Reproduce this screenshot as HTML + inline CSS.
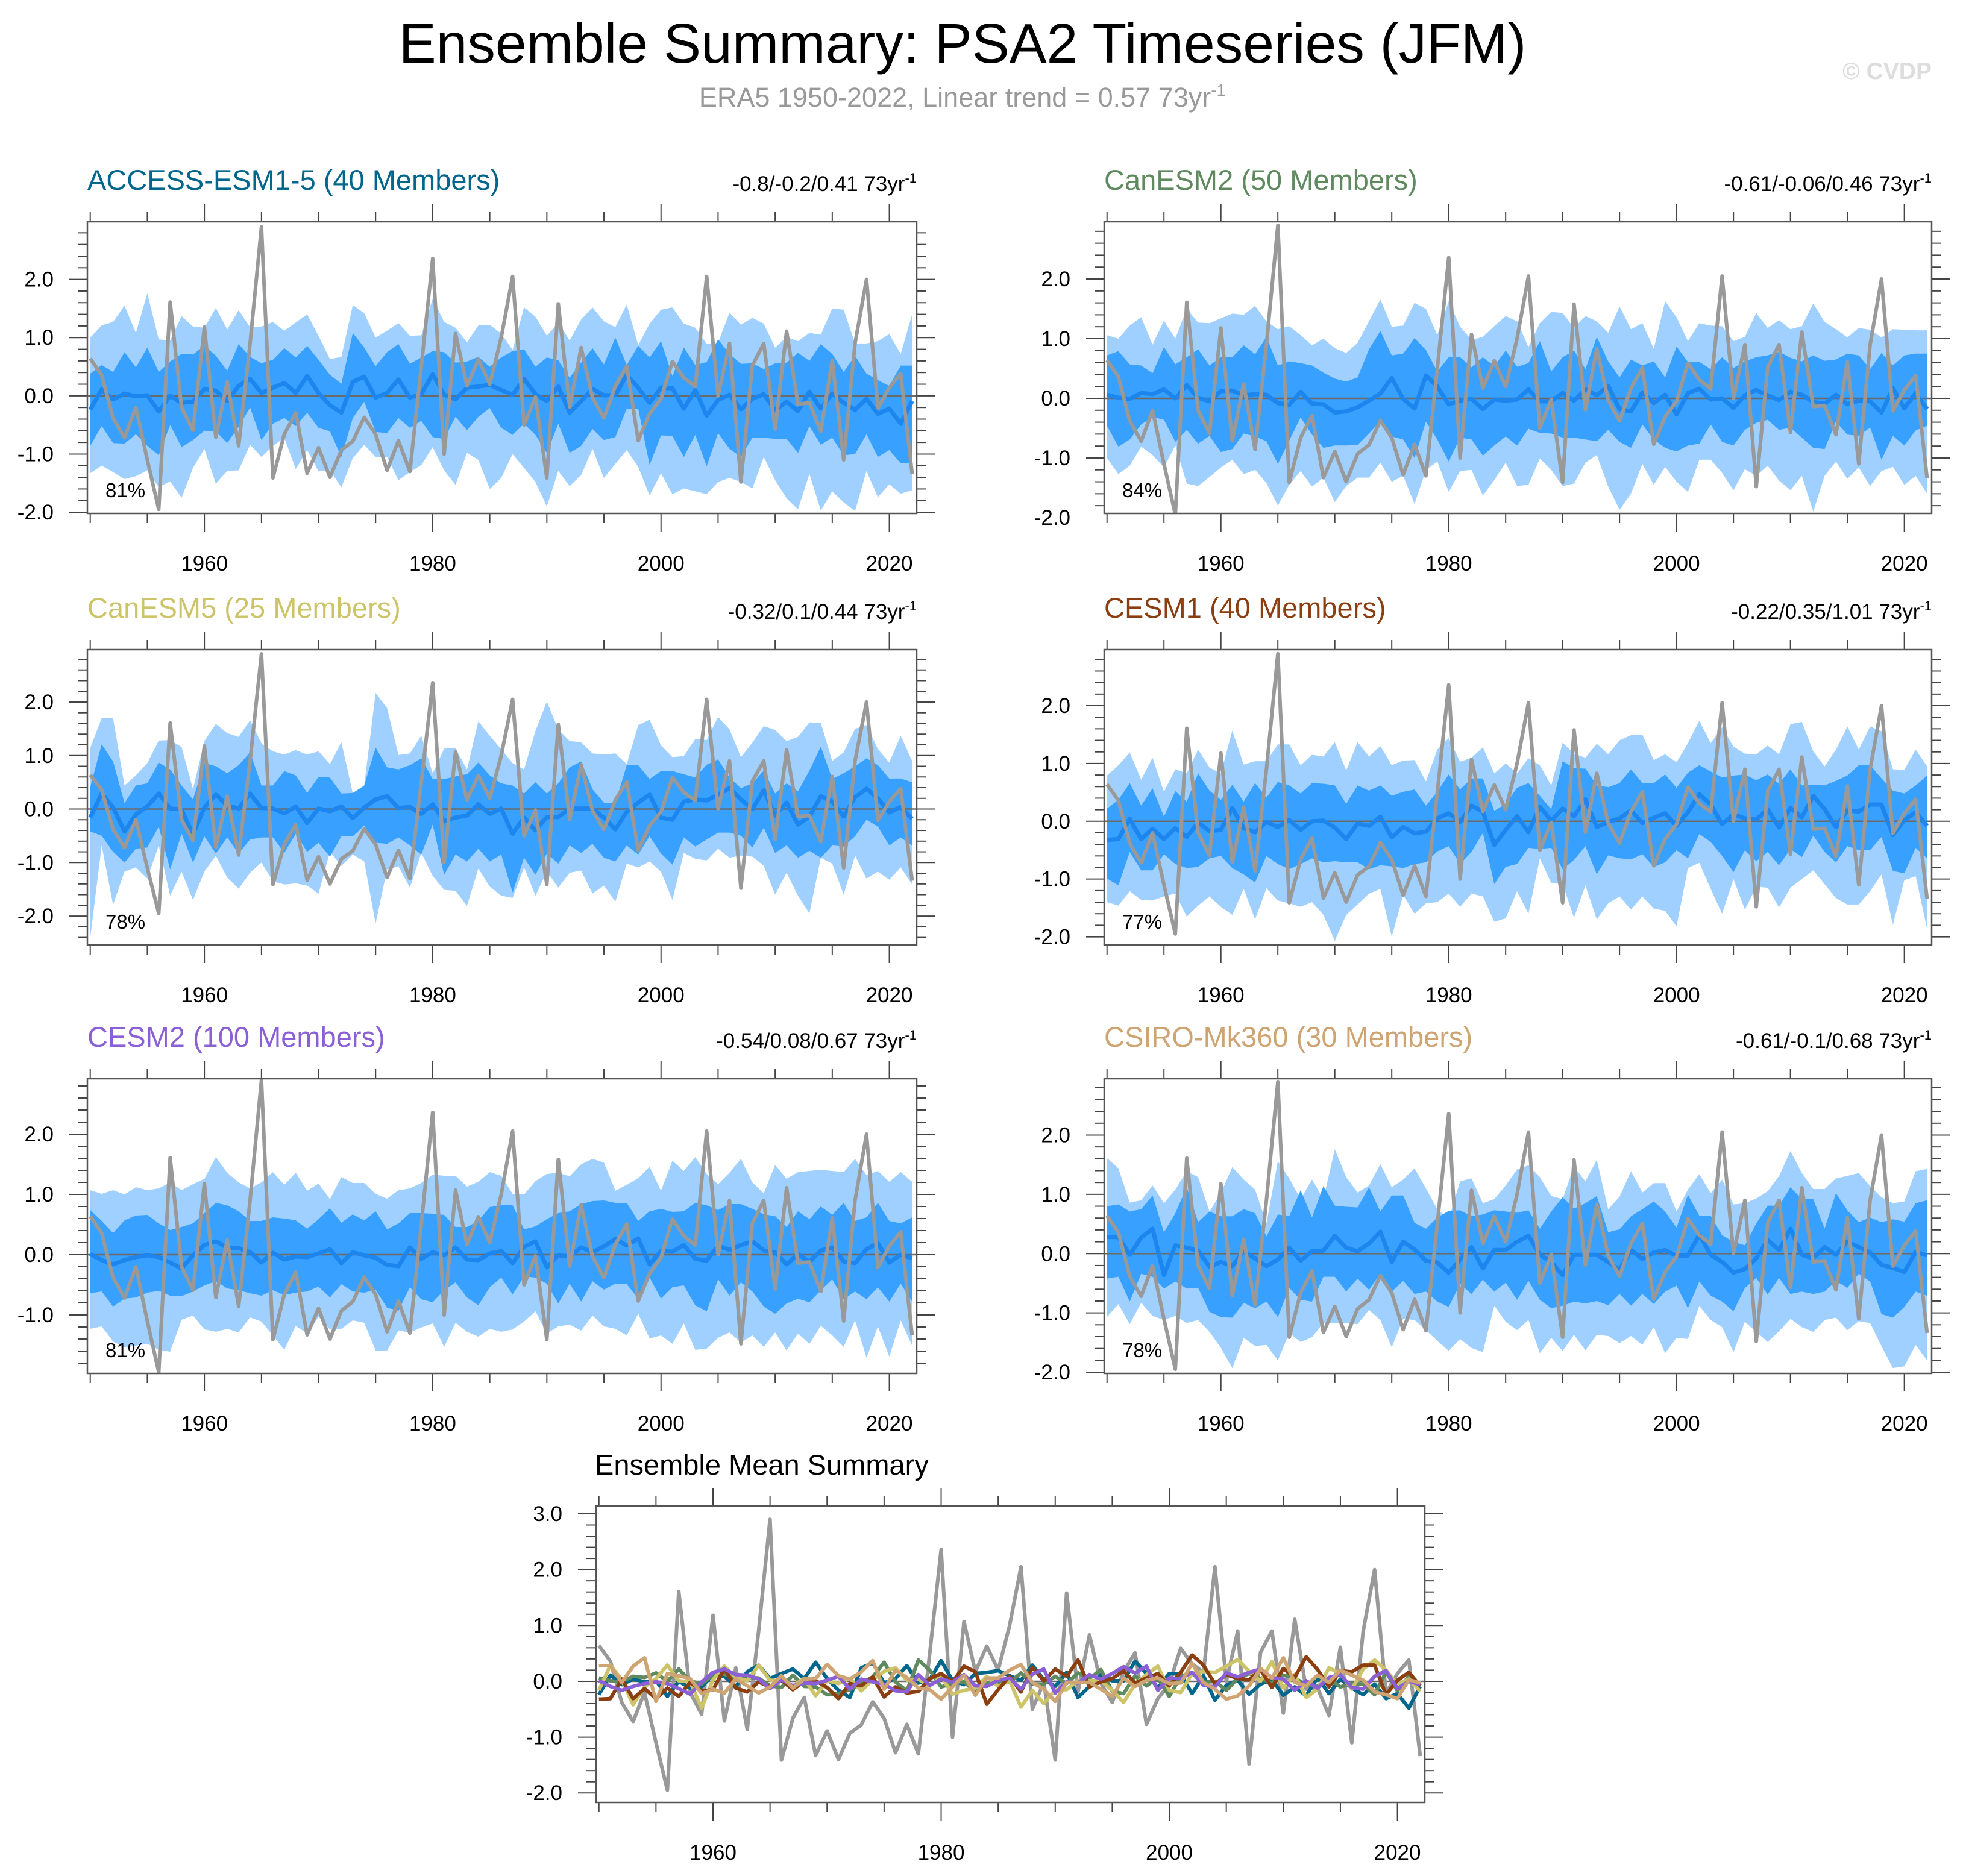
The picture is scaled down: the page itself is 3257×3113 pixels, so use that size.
<!DOCTYPE html>
<html><head><meta charset="utf-8"><title>Ensemble Summary: PSA2 Timeseries (JFM)</title>
<style>html,body{margin:0;padding:0;background:#fff;}svg{display:block;font-family:"Liberation Sans",Arial,sans-serif;}</style>
</head><body>
<svg id="chart" xmlns="http://www.w3.org/2000/svg" width="3257" height="3113" viewBox="0 0 3257 3113">
<rect x="0" y="0" width="3257" height="3113" fill="#fff"/>
<text x="1597" y="104" font-size="93" text-anchor="middle" fill="#000">Ensemble Summary: PSA2 Timeseries (JFM)</text>
<text x="1597" y="177" font-size="45" text-anchor="middle" fill="#999">ERA5 1950-2022, Linear trend = 0.57 73yr<tspan font-size="28" dy="-18">-1</tspan></text>
<text x="3205" y="131" font-size="39" font-weight="bold" text-anchor="end" fill="#ddd">© CVDP</text>
</svg>
<script>
const years = Array.from({length:73},(_,i)=>1950+i);
const xTickLabels = ["1960","1980","2000","2020"];
const obs = [0.64,0.36,-0.38,-0.72,-0.2,-1.1,-1.95,1.61,-0.2,-0.59,1.18,-0.71,0.24,-0.86,0.9,2.9,-1.41,-0.66,-0.29,-1.33,-0.89,-1.4,-0.93,-0.78,-0.37,-0.66,-1.28,-0.77,-1.3,0.5,2.36,-1.0,1.07,0.17,0.63,0.2,1.0,2.05,-0.5,-0.02,-1.41,1.58,-0.19,0.83,-0.03,-0.38,0.17,0.51,-0.77,-0.31,-0.05,0.59,0.31,0.16,2.05,0.0,0.9,-1.48,0.52,0.9,-0.57,1.11,-0.14,-0.12,-0.61,0.61,-1.1,0.9,2.0,-0.21,0.14,0.38,-1.34];

const m1 = [-0.24,0.11,-0.06,0.04,-0.01,0.01,-0.27,0,-0.12,-0.1,0.12,0.09,-0.09,0.17,0.29,0.05,0.14,0.22,0.05,0.34,0.05,-0.16,-0.29,0.24,0.33,-0.03,0.05,0.28,-0.03,0.03,0.37,0.02,-0.06,0.14,0.16,0.19,0.1,0.02,0.29,0.03,-0.09,0.16,-0.29,-0.09,0.12,0.01,0.01,0.36,0.14,-0.12,0.14,0.13,-0.22,0.1,-0.34,-0.07,0.02,-0.23,-0.05,0.03,-0.25,-0.1,-0.26,0.07,-0.22,0.04,-0.12,-0.24,-0.05,-0.31,-0.22,-0.48,-0.09];
const p90_1 = [1.0,1.21,1.27,1.55,1.08,1.76,0.97,0.95,1.37,1.19,1.17,1.51,1.14,1.47,1.18,1.19,1.27,1.12,1.26,1.4,1.03,0.63,0.67,1.56,1.42,1.0,1.12,1.25,1.03,1.04,1.67,1.27,1.17,0.92,1.21,1.22,1.07,0.79,1.52,1.36,1.03,1.26,0.95,1.31,1.52,1.28,1.18,1.57,0.87,1.24,1.48,1.52,1.24,1.17,0.89,0.91,1.43,1.22,1.34,1.24,0.83,1.01,0.94,1.08,1.05,1.5,1.48,0.9,0.9,0.94,1.06,0.72,1.4];
const p75_1 = [0.38,0.53,0.41,0.75,0.49,0.83,0.41,0.59,0.72,0.71,0.86,0.69,0.43,0.89,0.67,0.56,0.62,0.82,0.66,0.86,0.62,0.36,0.21,1.08,0.83,0.51,0.75,0.89,0.55,0.66,0.77,0.75,0.57,0.59,0.67,0.5,0.66,0.77,0.8,0.5,0.66,0.61,0.31,0.57,0.82,0.54,1.0,0.53,0.86,0.66,0.94,0.34,0.83,0.53,0.58,0.97,0.72,0.55,0.56,0.46,0.56,0.57,0.74,0.6,0.89,0.72,0.41,0.69,0.38,0.27,0.17,0.52,0.52];
const p25_1 = [-0.86,-0.52,-0.81,-0.82,-0.66,-0.86,-1.02,-0.5,-0.88,-0.76,-0.6,-0.61,-0.81,-0.53,-0.2,-0.76,-0.48,-0.38,-0.52,-0.29,-0.55,-0.61,-1.05,-0.38,-0.1,-0.62,-0.64,-0.38,-0.55,-0.43,-0.71,-0.74,-0.36,-0.59,-0.36,-0.21,-0.55,-0.67,-0.48,-0.67,-0.98,-0.48,-0.98,-0.86,-0.57,-0.76,-0.71,-0.22,-0.22,-1.19,-0.68,-0.69,-1.05,-0.67,-1.21,-0.64,-0.91,-1.05,-0.72,-0.72,-0.74,-0.74,-0.98,-0.52,-0.84,-0.72,-1.02,-1.0,-0.66,-1.05,-0.93,-1.16,-1.16];
const p10_1 = [-1.33,-1.2,-1.31,-1.43,-1.38,-1.28,-1.57,-1.47,-1.75,-1.24,-0.91,-1.51,-1.29,-1.28,-0.84,-1.05,-0.86,-0.72,-1.26,-0.93,-1.3,-1.28,-1.57,-1.07,-0.84,-1.05,-1.05,-1.45,-1.31,-1.19,-0.88,-1.28,-1.53,-0.98,-1.1,-1.6,-1.41,-1.0,-1.24,-1.48,-1.9,-1.29,-1.55,-1.36,-0.91,-1.41,-1.17,-0.93,-1.22,-1.71,-1.33,-1.69,-1.59,-1.64,-1.69,-1.48,-1.41,-1.48,-1.59,-1.05,-1.45,-1.76,-1.95,-1.34,-1.97,-1.64,-1.83,-1.98,-1.29,-1.74,-1.52,-1.68,-1.62];

const m2 = [0.06,0.01,-0.01,0.09,0.07,0.15,0,0.22,0.01,-0.05,0.12,0.13,0.05,0.07,0.06,-0.08,-0.11,0.11,-0.09,-0.1,-0.24,-0.22,-0.15,-0.04,0.08,0.34,-0.01,-0.17,0.38,0.2,-0.1,-0.04,-0.01,-0.18,-0.02,-0.04,-0.02,0.15,-0.05,-0.05,0.09,-0.04,0.15,0.05,0.21,-0.18,-0.22,0.1,-0.08,0.06,-0.27,0.09,0.16,-0.02,0,-0.16,0.05,0.14,0.05,-0.03,0.11,0.06,-0.06,-0.09,0.06,-0.1,-0.04,-0.05,-0.24,0.17,-0.17,0.09,-0.18];
const p90_2 = [1.06,1.0,1.22,1.36,0.9,1.3,1.0,1.5,1.27,1.26,1.34,1.42,1.4,1.55,1.29,1.16,1.21,1.06,0.89,1.0,0.84,0.76,0.93,1.29,1.66,1.2,1.22,1.6,1.5,1.06,1.63,1.2,0.98,1.03,1.21,1.38,1.29,0.86,1.26,1.45,1.43,1.18,1.38,1.29,1.1,1.54,1.16,1.26,0.83,1.63,1.36,0.96,1.26,1.22,1.21,0.96,1.03,1.43,1.18,1.31,1.16,1.21,1.59,1.28,1.16,1.02,1.18,1.15,1.02,1.16,1.15,1.14,1.14];
const p75_2 = [0.72,0.79,0.57,0.55,0.42,0.86,0.57,0.69,0.82,0.55,0.69,0.69,0.89,0.74,1.03,0.55,0.62,0.59,0.55,0.43,0.33,0.28,0.35,0.82,1.13,0.72,0.75,1.01,0.81,0.45,0.69,0.69,0.52,0.69,0.54,0.8,0.53,0.59,0.96,0.45,0.69,0.8,0.49,1.03,0.62,0.35,0.65,0.55,0.62,0.35,0.87,0.61,0.61,0.49,0.69,0.51,0.62,0.69,0.72,0.78,0.68,0.62,0.72,0.63,0.65,0.75,0.72,0.49,0.76,0.55,0.72,0.75,0.75];
const p25_2 = [-0.46,-0.81,-0.69,-0.44,-0.31,-0.36,-0.73,-0.53,-0.76,-0.63,-0.9,-0.85,-0.59,-0.64,-0.72,-1.1,-0.71,-0.32,-0.61,-0.83,-0.79,-0.79,-0.78,-0.59,-0.38,-0.64,-0.69,-1.0,-0.39,-0.69,-1.06,-0.66,-0.69,-0.96,-0.79,-0.64,-0.79,-0.51,-0.58,-0.59,-0.66,-0.66,-0.69,-0.72,-0.53,-0.73,-0.83,-0.44,-0.69,-0.83,-0.89,-0.79,-0.76,-0.44,-0.73,-0.79,-0.53,-0.41,-0.36,-0.53,-0.49,-0.66,-0.83,-0.85,-0.39,-0.61,-0.63,-0.49,-1.03,-0.63,-0.79,-0.54,-0.46];
const p10_2 = [-1.0,-1.27,-1.13,-0.81,-0.95,-1.16,-0.79,-1.43,-1.47,-1.32,-1.16,-1.03,-1.27,-1.2,-1.42,-1.8,-1.45,-1.22,-1.48,-1.33,-1.74,-1.47,-1.33,-1.33,-1.08,-1.4,-1.3,-1.77,-1.2,-1.06,-1.57,-1.22,-1.2,-1.63,-1.37,-1.08,-1.47,-1.45,-1.01,-1.2,-1.47,-1.43,-1.08,-0.95,-1.48,-1.87,-1.6,-1.1,-1.45,-1.15,-1.4,-1.57,-1.03,-1.03,-1.25,-1.54,-1.19,-1.3,-1.13,-1.38,-1.54,-1.3,-1.9,-1.3,-1.06,-1.35,-1.16,-1.47,-1.22,-1.15,-1.45,-1.3,-1.6];

const m3 = [-0.16,0.29,0.03,-0.42,-0.1,0.05,0.29,0.01,-0.01,-0.48,0.03,0.27,0.07,0.01,0.29,0.02,0.01,-0.08,0.05,-0.26,0.01,-0.04,0.05,-0.17,0.03,0.18,0.24,0.02,0.04,-0.09,0.09,-0.23,-0.16,-0.12,0.09,-0.09,0.01,-0.46,-0.16,-0.4,-0.15,-0.15,0.01,0.01,0.01,-0.16,-0.38,-0.05,0.12,0.27,-0.16,-0.2,0.14,0.18,0.16,0.27,0.39,0.18,0,0.35,-0.12,0.12,-0.29,-0.14,0.24,0.14,-0.14,0.22,0.38,0.2,-0.06,0.04,-0.18];
const p90_3 = [1.14,1.7,1.7,0.44,0.63,0.86,1.28,1.29,1.16,0.37,1.27,1.59,1.42,1.35,1.66,1.23,1.08,1.02,1.1,1.02,1.08,0.84,1.25,0.29,0.44,2.17,1.89,1.01,1.04,1.37,0.67,1.13,1.14,0.74,1.64,1.37,1.12,0.86,0.74,1.46,2.01,1.49,1.27,1.25,1.04,1.02,1.04,0.84,1.57,1.67,1.19,0.97,0.99,1.31,1.29,1.72,1.49,0.97,1.24,1.55,1.48,1.27,1.35,1.62,1.61,0.9,1.06,1.5,1.57,1.12,0.87,1.37,0.9];
const p75_3 = [0.41,1.21,0.89,0.11,0.44,0.48,0.87,0.74,0.44,0.18,0.86,0.8,0.67,0.82,1.06,0.44,0.44,0.71,0.63,0.3,0.6,0.59,0.29,0.3,0.44,1.15,0.78,0.74,0.82,0.95,0.56,0.56,0.61,0.65,0.87,0.63,0.48,0.44,0.29,0.5,0.29,0.48,0.78,0.89,0.37,0.12,0.11,0.82,0.82,0.56,0.71,0.71,0.65,0.59,0.83,0.93,0.59,0.39,0.48,0.72,0.29,0.48,0.33,0.72,1.17,0.56,0.67,0.8,0.95,0.82,0.57,0.57,0.5];
const p25_3 = [-0.42,-0.5,-0.8,-1.0,-0.74,-0.72,-0.33,-1.13,-0.46,-1.0,-0.51,-0.83,-0.53,-0.83,-0.57,-0.53,-0.53,-0.82,-0.46,-0.8,-0.63,-0.89,-0.51,-0.51,-0.31,-0.63,-0.65,-0.53,-0.68,-0.85,-0.29,-1.23,-0.85,-0.98,-0.74,-0.98,-0.85,-1.56,-0.91,-1.23,-0.83,-1.02,-0.68,-0.82,-0.65,-0.91,-0.98,-0.68,-0.85,-0.51,-0.83,-1.04,-0.53,-0.7,-0.57,-0.44,-0.44,-0.5,-0.72,-0.35,-0.82,-0.68,-0.91,-0.78,-0.91,-0.68,-0.7,-0.51,-0.2,-0.33,-0.68,-0.53,-0.68];
const p10_3 = [-2.41,-0.68,-1.79,-1.17,-1.09,-1.3,-0.68,-1.62,-1.17,-1.7,-1.17,-0.87,-1.28,-1.49,-1.19,-1.0,-1.35,-1.41,-1.39,-1.43,-1.58,-0.8,-1.06,-0.85,-0.98,-2.14,-1.13,-1.07,-1.47,-0.82,-1.25,-1.51,-1.53,-1.81,-1.11,-1.45,-1.62,-1.66,-1.09,-1.62,-1.17,-1.47,-1.19,-1.15,-1.58,-1.43,-1.73,-1.02,-1.09,-0.98,-1.17,-1.7,-0.82,-0.93,-0.96,-0.74,-0.91,-0.87,-0.89,-1.06,-1.6,-1.19,-1.62,-1.95,-0.91,-1.02,-1.6,-0.87,-1.3,-1.17,-1.32,-1.09,-1.41];

const m4 = [-0.32,-0.31,0.04,-0.31,-0.13,-0.31,-0.12,-0.27,-0.02,-0.17,-0.15,0.23,-0.12,-0.19,-0.01,-0.1,0.02,-0.15,0,0.01,-0.11,-0.31,-0.04,-0.08,0.08,-0.28,-0.1,-0.21,-0.18,0.05,0.14,-0.01,0.27,0.17,-0.41,-0.15,0.09,-0.19,0.25,0.01,0.22,0.09,0.38,-0.1,-0.01,0.05,0.19,-0.03,0.06,0.14,-0.08,0.16,0.47,0.29,-0.05,0.12,0.05,0.03,0.21,-0.11,0.23,0.07,0.44,0.21,-0.1,0.19,0.17,0.29,0.29,-0.24,0.02,0.16,-0.08];
const p90_4 = [0.79,0.97,1.19,0.72,1.1,0.51,0.9,0.83,1.24,0.93,0.83,1.57,0.98,1.04,1.04,1.33,1.33,0.97,1.15,1.12,1.37,0.88,1.37,1.12,1.3,0.97,1.05,1.06,0.69,1.24,1.44,1.03,1.1,1.28,0.83,1.0,0.83,1.09,0.97,0.62,1.36,1.17,1.1,1.34,1.16,1.4,1.49,1.5,1.06,1.16,1.02,1.35,1.74,1.35,1.63,1.29,1.17,1.16,1.31,1.16,1.68,1.72,1.21,0.95,1.24,1.64,1.24,1.64,1.56,0.9,0.89,1.24,0.95];
const p75_4 = [0.22,0.37,0.66,0.27,0.57,0.08,0.52,0.34,0.83,0.53,0.37,0.63,0.34,0.66,0.41,0.68,0.62,0.48,0.66,0.65,0.62,0.3,0.62,0.53,0.62,0.44,0.51,0.55,0.27,0.51,0.81,0.55,0.74,0.74,0.18,0.3,0.58,0.66,0.44,0.21,1.04,0.92,0.91,0.62,0.59,0.66,0.9,0.66,0.66,0.81,0.58,0.84,0.97,0.86,0.76,0.79,0.81,0.71,0.81,0.65,0.9,0.62,0.63,0.62,0.7,0.79,0.97,0.97,0.74,0.53,0.48,0.62,0.79];
const p25_4 = [-0.99,-1.11,-0.53,-0.85,-0.85,-0.57,-0.74,-0.81,-0.79,-0.64,-0.6,-0.81,-0.92,-1.06,-0.6,-0.74,-0.83,-0.74,-0.64,-0.71,-0.69,-0.71,-0.71,-0.83,-0.76,-0.78,-0.81,-0.74,-0.71,-0.52,-0.43,-0.74,-0.53,-0.2,-1.09,-0.79,-0.74,-0.46,-0.48,-0.46,-0.83,-0.67,-0.43,-0.92,-0.59,-0.64,-0.66,-0.57,-0.79,-0.71,-0.5,-0.64,-0.22,-0.36,-0.6,-0.88,-0.5,-0.69,-0.53,-0.76,-0.48,-0.62,-0.25,-0.53,-0.71,-0.43,-0.5,-0.5,-0.27,-0.86,-0.9,-0.46,-0.64];
const p10_4 = [-1.4,-1.46,-1.21,-1.36,-1.37,-1.3,-1.25,-1.65,-1.46,-1.3,-1.48,-1.62,-1.17,-1.7,-1.16,-1.37,-1.42,-1.48,-1.4,-1.62,-2.07,-1.62,-1.44,-1.25,-1.17,-2.0,-1.28,-1.6,-1.42,-1.4,-1.25,-1.48,-1.25,-1.3,-1.74,-1.68,-1.21,-1.6,-0.64,-1.07,-1.09,-1.67,-1.11,-1.7,-1.42,-1.3,-1.53,-1.3,-1.51,-1.55,-1.82,-0.81,-0.72,-1.17,-1.6,-1.0,-1.53,-1.13,-1.15,-1.49,-1.15,-1.0,-0.85,-1.09,-1.33,-1.44,-1.44,-1.21,-0.92,-1.79,-1.02,-0.95,-1.86];

const m5 = [0.01,-0.09,-0.16,-0.09,-0.04,-0.01,-0.04,-0.13,-0.23,-0.01,0.16,0.22,0.12,0.11,0.04,-0.13,0.03,-0.08,-0.03,-0.04,0.02,0.09,-0.14,0.04,-0.01,-0.05,-0.17,-0.19,0.12,-0.07,0.04,-0.01,0.12,-0.08,-0.09,0.02,0.06,-0.14,0.13,0.22,-0.21,-0.01,-0.03,0.12,0.04,0.14,0.26,0.15,0.27,-0.16,0.06,0.05,0.16,-0.07,-0.1,0.15,0.08,0.16,0.22,0.07,0.04,-0.16,0.01,-0.12,0.07,0.12,-0.11,-0.14,0.09,0.19,-0.13,0,-0.06];
const p90_5 = [1.07,1.01,1.07,1.0,1.12,1.07,1.1,1.2,1.07,1.17,1.26,1.62,1.36,1.2,1.1,1.2,1.37,1.16,1.36,1.06,1.18,0.92,1.29,1.19,1.19,1.01,0.93,1.07,1.1,1.19,1.33,1.31,1.31,1.13,1.21,1.37,1.31,1.01,1.0,1.22,1.34,1.36,1.3,1.5,1.59,1.53,1.06,1.16,1.27,1.46,1.06,1.56,1.39,1.62,1.34,1.17,1.36,1.59,1.2,1.02,1.49,1.26,1.37,1.39,1.41,1.39,1.37,1.59,1.32,1.39,1.21,1.37,1.21];
const p75_5 = [0.74,0.56,0.36,0.57,0.65,0.66,0.52,0.41,0.46,0.52,0.69,0.86,0.82,0.72,0.56,0.56,0.62,0.6,0.57,0.43,0.59,0.77,0.53,0.67,0.57,0.72,0.42,0.52,0.69,0.69,0.68,0.66,0.46,0.46,0.56,0.79,0.82,0.82,0.42,0.47,0.59,0.69,0.72,0.84,0.89,0.9,0.86,0.86,0.56,0.72,0.76,0.71,0.72,0.86,0.82,0.74,0.84,0.84,0.76,0.67,0.64,0.46,0.72,0.59,0.8,0.66,0.86,0.56,0.62,0.86,0.56,0.52,0.62];
const p25_5 = [-0.64,-0.61,-0.86,-0.73,-0.71,-0.63,-0.6,-0.68,-0.69,-0.61,-0.51,-0.44,-0.56,-0.59,-0.64,-0.68,-0.59,-0.67,-0.63,-0.61,-0.53,-0.71,-0.49,-0.61,-0.63,-0.58,-0.88,-0.93,-0.54,-0.74,-0.79,-0.59,-0.46,-0.71,-0.84,-0.54,-0.38,-0.66,-0.36,-0.38,-0.48,-0.81,-0.48,-0.78,-0.44,-0.58,-0.48,-0.49,-0.73,-0.38,-0.73,-0.54,-0.51,-0.84,-0.94,-0.41,-0.68,-0.46,-0.61,-0.86,-0.98,-0.81,-0.73,-0.79,-0.59,-0.41,-0.74,-0.61,-0.74,-0.54,-0.78,-0.48,-0.78];
const p10_5 = [-1.23,-1.19,-1.44,-1.54,-1.51,-1.48,-1.58,-1.61,-1.08,-1.01,-1.24,-1.28,-1.23,-1.29,-1.04,-1.11,-1.34,-1.58,-1.18,-1.31,-1.03,-1.24,-1.23,-1.09,-1.13,-1.59,-1.59,-1.26,-1.29,-1.21,-1.14,-1.53,-1.13,-1.28,-1.36,-1.23,-1.28,-1.24,-1.11,-0.94,-1.31,-1.19,-1.16,-1.26,-1.01,-1.19,-1.23,-1.34,-0.98,-1.39,-1.34,-1.48,-1.14,-1.58,-1.56,-1.38,-1.29,-1.46,-1.34,-1.53,-1.29,-1.59,-1.31,-1.48,-1.18,-1.34,-1.53,-1.09,-1.71,-1.19,-1.69,-1.09,-1.51];

const m6 = [0.28,0.28,-0.02,0.27,0.42,-0.36,0.14,0.1,0.05,-0.22,-0.14,-0.21,0.04,-0.08,-0.21,-0.1,0.1,-0.12,0.04,0.05,0.3,0.1,0.04,0.17,0.37,-0.14,0.2,0.07,-0.12,-0.15,-0.32,-0.1,0.11,-0.25,0.06,0.06,0.2,0.3,-0.02,-0.14,-0.36,-0.02,-0.02,-0.02,-0.14,-0.27,0.06,-0.09,0.02,0.06,-0.04,-0.03,0.32,-0.02,-0.14,-0.32,-0.26,-0.08,0.23,0.06,0.42,-0.02,-0.08,0.11,-0.02,0.2,0.11,0.02,-0.19,-0.24,-0.31,0.03,-0.03];
const p90_6 = [1.61,1.44,0.86,0.9,1.15,0.85,1.08,1.39,1.29,0.71,1.02,1.46,1.25,1.08,0.51,1.56,1.27,0.92,1.25,0.92,1.76,1.29,1.03,1.15,1.51,1.12,1.25,1.44,1.1,0.75,0.58,1.22,1.27,0.85,0.92,1.15,1.42,1.49,1.29,0.97,0.92,1.47,1.22,1.58,0.75,0.96,1.39,1.03,1.19,1.19,0.71,1.08,1.34,1.02,1.25,0.83,0.85,0.93,1.05,1.31,1.73,1.36,1.09,1.09,1.27,1.31,1.36,1.14,0.95,0.85,0.88,1.39,1.43];
const p75_6 = [0.8,0.83,0.71,0.75,0.98,0.36,0.68,1.12,0.53,0.71,0.63,0.63,0.75,0.68,0.29,0.66,0.63,1.07,0.61,1.14,0.81,0.79,0.78,1.12,0.71,0.98,0.98,0.52,0.42,0.61,0.72,0.73,0.63,0.66,0.73,0.71,0.69,0.73,0.42,0.71,0.95,0.76,0.85,0.97,0.36,0.41,0.63,0.75,0.88,0.71,0.44,0.99,0.64,0.64,0.31,0.2,0.14,0.51,0.81,0.81,1.12,0.92,0.92,0.42,1.02,0.73,0.53,0.61,0.53,0.58,0.54,0.85,0.9];
const p25_6 = [-0.42,-0.39,-0.81,-0.34,-0.39,-0.59,-0.47,-0.59,-0.58,-0.98,-1.07,-1.08,-0.83,-0.92,-0.81,-1.07,-0.58,-0.78,-0.81,-0.39,-0.39,-0.64,-0.42,-0.61,-0.34,-0.64,-0.46,-0.68,-0.64,-0.81,-0.9,-0.51,-0.68,-0.44,-0.64,-0.49,-0.78,-0.46,-0.78,-0.92,-0.88,-0.81,-0.84,-0.8,-0.87,-0.68,-0.88,-0.68,-0.85,-0.64,-0.54,-0.92,-0.47,-0.71,-0.81,-0.97,-0.58,-0.41,-0.69,-0.41,-0.68,-0.64,-0.68,-0.64,-0.46,-0.58,-0.34,-0.47,-1.02,-1.08,-0.9,-0.64,-0.71];
const p10_6 = [-1.07,-0.85,-1.19,-0.83,-1.05,-1.12,-1.05,-1.17,-1.12,-1.32,-1.59,-1.93,-1.42,-1.56,-1.54,-1.8,-1.34,-1.49,-1.41,-1.17,-1.17,-1.17,-1.19,-0.95,-1.12,-1.58,-1.1,-1.12,-1.29,-1.47,-1.64,-1.44,-1.59,-1.66,-0.88,-1.15,-1.29,-1.12,-1.68,-1.42,-1.64,-1.37,-1.63,-1.37,-1.39,-1.51,-1.39,-1.54,-1.24,-1.68,-1.42,-1.44,-0.88,-1.12,-1.24,-1.66,-1.15,-1.32,-1.49,-1.31,-1.1,-1.24,-1.32,-1.12,-1.08,-1.29,-1.14,-1.17,-1.56,-1.93,-1.9,-1.54,-1.8];

const modelNames = ["ACCESS-ESM1-5 (40 Members)","CanESM2 (50 Members)","CanESM5 (25 Members)","CESM1 (40 Members)","CESM2 (100 Members)","CSIRO-Mk360 (30 Members)"];
const trendLabels = ["-0.8/-0.2/0.41 73yr","-0.61/-0.06/0.46 73yr","-0.32/0.1/0.44 73yr","-0.22/0.35/1.01 73yr","-0.54/0.08/0.67 73yr","-0.61/-0.1/0.68 73yr"];
const pctLabels = ["81%","84%","78%","77%","81%","78%"];
const yTickLabels5 = ["2.0","1.0","0.0","-1.0","-2.0"];
const yTickLabels4 = ["2.0","1.0","0.0","-1.0"];
const yTickLabelsMean = ["3.0","2.0","1.0","0.0","-1.0","-2.0"];

const NS = "http://www.w3.org/2000/svg";
const svg = document.getElementById("chart");
function mk(tag, attrs, parent){
  const e = document.createElementNS(NS, tag);
  for (const k in attrs) e.setAttribute(k, attrs[k]);
  (parent||svg).appendChild(e);
  return e;
}
const modelColors = ["#00668c","#5f8a5f","#cdc46a","#8b3e0f","#8b5fd6","#cfa473"];
const layouts = [
  {x0:145,x1:1521,y0:368,y1:852,ymin:-2.02,ymax:2.99},
  {x0:1832,x1:3205,y0:368,y1:852,ymin:-1.93,ymax:2.96},
  {x0:145,x1:1521,y0:1078,y1:1568,ymin:-2.54,ymax:2.98},
  {x0:1832,x1:3205,y0:1078,y1:1568,ymin:-2.14,ymax:2.97},
  {x0:145,x1:1521,y0:1790,y1:2279,ymin:-1.97,ymax:2.92},
  {x0:1832,x1:3205,y0:1790,y1:2279,ymin:-2.02,ymax:2.95}
];
const panelYLabels = [yTickLabels5,yTickLabels5,yTickLabels5,yTickLabels5,yTickLabels4,yTickLabels5];
const means = [m1,m2,m3,m4,m5,m6];
const p90s = [p90_1,p90_2,p90_3,p90_4,p90_5,p90_6];
const p75s = [p75_1,p75_2,p75_3,p75_4,p75_5,p75_6];
const p25s = [p25_1,p25_2,p25_3,p25_4,p25_5,p25_6];
const p10s = [p10_1,p10_2,p10_3,p10_4,p10_5,p10_6];
const XMIN = 1949.75, XMAX = 2022.4;

function axes(L){
  return {
    sx: yr => L.x0 + (yr - XMIN) / (XMAX - XMIN) * (L.x1 - L.x0),
    sy: v => L.y1 - (v - L.ymin) / (L.ymax - L.ymin) * (L.y1 - L.y0)
  };
}
function linePath(ax, vals){
  return vals.map((v,i)=>(i?"L":"M")+ax.sx(years[i]).toFixed(1)+","+ax.sy(v).toFixed(1)).join("");
}
function bandPath(ax, lo, hi){
  let d = hi.map((v,i)=>(i?"L":"M")+ax.sx(years[i]).toFixed(1)+","+ax.sy(v).toFixed(1)).join("");
  for (let i = lo.length-1; i >= 0; i--) d += "L"+ax.sx(years[i]).toFixed(1)+","+ax.sy(lo[i]).toFixed(1);
  return d + "Z";
}
function drawFrame(g, L, ax, yLabels){
  const tickG = mk("g", {stroke:"#444","stroke-width":2}, g);
  
  
  for (let yr = 1950; yr <= 2020; yr += 5){
    const major = (yr % 20 === 0);
    const len = major ? 30 : 16;
    const x = ax.sx(yr);
    const t1 = mk("line", {x1:x, x2:x, y1:L.y0, y2:L.y0-len}, tickG);
    
    
    const t2 = mk("line", {x1:x, x2:x, y1:L.y1, y2:L.y1+len}, tickG);
    
    
  }
  const lo = Math.ceil(L.ymin*5-1e-6), hi = Math.floor(L.ymax*5+1e-6);
  for (let k = lo; k <= hi; k++){
    const v = k/5, major = (k % 5 === 0);
    const len = major ? 30 : 16;
    const y = ax.sy(v);
    const t1 = mk("line", {x1:L.x0, x2:L.x0-len, y1:y, y2:y}, tickG);
    
    
    const t2 = mk("line", {x1:L.x1, x2:L.x1+len, y1:y, y2:y}, tickG);
    
    
  }
  const box = mk("rect", {x:L.x0, y:L.y0, width:L.x1-L.x0, height:L.y1-L.y0, fill:"none", stroke:"#555", "stroke-width":2.5}, g);
  
  
  xTickLabels.forEach(s=>{
    const t = mk("text", {x:ax.sx(+s), y:L.y1+95, "font-size":35, "text-anchor":"middle", fill:"#000"}, g);
    t.textContent = s;
    
    
  });
  yLabels.forEach(s=>{
    const v = parseFloat(s);
    const t = mk("text", {x:L.x0-56, y:ax.sy(v)+12, "font-size":35, "text-anchor":"end", fill:"#000"}, g);
    t.textContent = s;
    
    
  });
}

layouts.forEach((L, p)=>{
  const ax = axes(L);
  const g = mk("g", {});
  
  
  const cp = mk("clipPath", {id:"clip"+p}, g);
  mk("rect", {x:L.x0, y:L.y0, width:L.x1-L.x0, height:L.y1-L.y0}, cp);
  const pg = mk("g", {"clip-path":"url(#clip"+p+")"}, g);
  
  
  const b1 = mk("path", {d:bandPath(ax, p10s[p], p90s[p]), fill:"#a0d0ff"}, pg);
  
  
  const b2 = mk("path", {d:bandPath(ax, p25s[p], p75s[p]), fill:"#38a0ff"}, pg);
  
  
  const z = mk("line", {x1:L.x0, x2:L.x1, y1:ax.sy(0), y2:ax.sy(0), stroke:"#6a6a6a", "stroke-width":2.5}, pg);
  
  
  const ml = mk("path", {d:linePath(ax, means[p]), fill:"none", stroke:"#1c86ee", "stroke-width":7, "stroke-linejoin":"round"}, pg);
  
  
  const ol = mk("path", {d:linePath(ax, obs), fill:"none", stroke:"#999", "stroke-width":6, "stroke-linejoin":"round"}, pg);
  
  
  drawFrame(g, L, ax, panelYLabels[p]);
  const tt = mk("text", {x:L.x0, y:L.y0-53, "font-size":47, fill:modelColors[p]}, g);
  tt.textContent = modelNames[p];
  
  
  const tr = mk("text", {x:L.x1, y:L.y0-51, "font-size":35, "text-anchor":"end", fill:"#000"}, g);
  tr.textContent = trendLabels[p];
  const sup = mk("tspan", {"font-size":22, dy:-14}, tr);
  sup.textContent = "-1";
  
  
  const pc = mk("text", {x:L.x0+30, y:L.y1-27, "font-size":33, fill:"#000"}, g);
  pc.textContent = pctLabels[p];
  
  
});

(function(){
  const L = {x0:989,x1:2364,y0:2499,y1:2991,ymin:-2.17,ymax:3.14};
  const ax = axes(L);
  const g = mk("g", {});
  
  
  const cp = mk("clipPath", {id:"clipM"}, g);
  mk("rect", {x:L.x0, y:L.y0, width:L.x1-L.x0, height:L.y1-L.y0}, cp);
  const pg = mk("g", {"clip-path":"url(#clipM)"}, g);
  
  
  const z = mk("line", {x1:L.x0, x2:L.x1, y1:ax.sy(0), y2:ax.sy(0), stroke:"#6a6a6a", "stroke-width":2.5}, pg);
  
  
  const ol = mk("path", {d:linePath(ax, obs), fill:"none", stroke:"#999", "stroke-width":6, "stroke-linejoin":"round"}, pg);
  
  
  means.forEach((m, p)=>{
    const l = mk("path", {d:linePath(ax, m), fill:"none", stroke:modelColors[p], "stroke-width":6, "stroke-linejoin":"round"}, pg);
    
    
  });
  drawFrame(g, L, ax, yTickLabelsMean);
  const tt = mk("text", {x:987, y:2447, "font-size":47, fill:"#000"}, g);
  tt.textContent = "Ensemble Mean Summary";
  
  
})();
</script>
</body></html>
